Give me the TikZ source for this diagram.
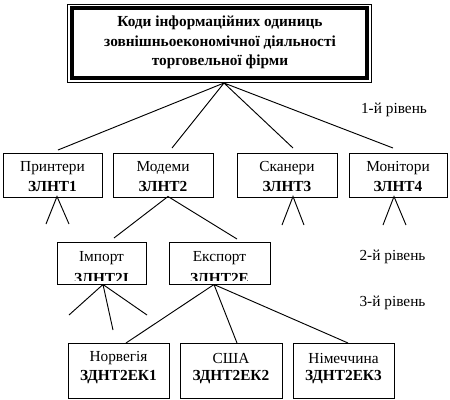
\documentclass[tikz,border=0pt]{standalone}
\usepackage{fontspec}
\setmainfont{Liberation Serif}
\begin{document}
\begin{tikzpicture}[x=0.75pt,y=-0.75pt,
  frame/.style={draw, line width=0.75pt, inner sep=0pt},
  txt/.style={inner sep=0pt, font=\fontsize{11.5}{14}\selectfont},
  code/.style={inner sep=0pt, font=\bfseries\fontsize{11.5}{14}\selectfont},
  link/.style={line width=0.7pt}]
\useasboundingbox (0,0) rectangle (450,400);

% top box
\node[frame, minimum width=228pt, minimum height=58.875pt] (top) at (219.5,43.25) {};
\draw[line width=2.6pt] (72,7.8) rectangle (367,78);
\node[inner sep=0pt, align=center, font=\bfseries\fontsize{11.5}{14.4}\selectfont] (toptext) at (220,42.5)
  {Коди інформаційних одиниць\\зовнішньоекономічної діяльності\\торговельної фірми};

% level labels
\node[txt] (l1) at (394,110) {1-й рівень};
\node[txt] (l2) at (392.5,257) {2-й рівень};
\node[txt] (l3) at (392.5,303) {3-й рівень};

% level 1 boxes
\node[frame, minimum width=74.25pt, minimum height=33pt] (p1) at (52.5,175) {};
\node[frame, minimum width=75pt, minimum height=33pt] (p2) at (163,175) {};
\node[frame, minimum width=75pt, minimum height=33pt] (p3) at (287,175) {};
\node[frame, minimum width=73.5pt, minimum height=33pt] (p4) at (398,175) {};
\node[txt] (p1a) at (52.5,168) {Принтери};
\node[code] (p1c) at (52.5,186) {ЗЛНТ1};
\node[txt] (p2a) at (163,168) {Модеми};
\node[code] (p2c) at (163,186) {ЗЛНТ2};
\node[txt] (p3a) at (287,168) {Сканери};
\node[code] (p3c) at (287,186) {ЗЛНТ3};
\node[txt] (p4a) at (398,168) {Монітори};
\node[code] (p4c) at (398,186) {ЗЛНТ4};

% level 2 boxes
\node[frame, minimum width=66.75pt, minimum height=31.5pt] (i1) at (101.5,263) {};
\node[frame, minimum width=75.75pt, minimum height=31.5pt] (e1) at (219.5,263) {};
\node[txt] (i1a) at (101.5,258) {Імпорт};
\node[txt] (e1a) at (219.5,258) {Експорт};
\begin{scope}
  \clip (58,243) rectangle (269,280.5);
  \node[code] (i1c) at (101.5,278) {ЗЛНТ2І};
  \node[code] (e1c) at (219.5,278) {ЗЛНТ2Е};
\end{scope}

% level 3 boxes
\node[frame, minimum width=75.75pt, minimum height=41.25pt] (n1) at (118.5,370.5) {};
\node[frame, minimum width=76.5pt, minimum height=41.25pt] (n2) at (231,370.5) {};
\node[frame, minimum width=75.75pt, minimum height=41.25pt] (n3) at (343.5,370.5) {};
\node[txt] (n1a) at (118.5,358) {Норвегія};
\node[code] (n1c) at (118.5,377) {ЗДНТ2ЕК1};
\node[txt] (n2a) at (231,358) {США};
\node[code] (n2c) at (231,377) {ЗДНТ2ЕК2};
\node[txt] (n3a) at (343.5,358) {Німеччина};
\node[code] (n3c) at (343.5,377) {ЗДНТ2ЕК3};

% connector points
\coordinate (a0) at (224,83);
\coordinate (t1) at (58,150);
\coordinate (t2) at (172,148);
\coordinate (t3) at (293,148);
\coordinate (t4) at (393,148);
\coordinate (b1) at (57,196.5);
\coordinate (b1l) at (46,224);
\coordinate (b1r) at (69,224);
\coordinate (b2) at (168,196.5);
\coordinate (ti) at (114,238);
\coordinate (te) at (237,239);
\coordinate (b3) at (293,196.5);
\coordinate (b3l) at (282,225);
\coordinate (b3r) at (304,225);
\coordinate (b4) at (394,196.5);
\coordinate (b4l) at (383,225);
\coordinate (b4r) at (406,225);
\coordinate (bi) at (103,284.5);
\coordinate (bil) at (69,315);
\coordinate (bim) at (113,330);
\coordinate (bir) at (147,315);
\coordinate (be) at (214,284.5);
\coordinate (tn1) at (126,343);
\coordinate (tn2) at (237,343);
\coordinate (tn3) at (348,343);

\draw[link] (a0) -- (t1) (a0) -- (t2) (a0) -- (t3) (a0) -- (t4);
\draw[link] (b1l) -- (b1) -- (b1r);
\draw[link] (ti) -- (b2) -- (te);
\draw[link] (b3l) -- (b3) -- (b3r);
\draw[link] (b4l) -- (b4) -- (b4r);
\draw[link] (bi) -- (bil) (bi) -- (bim) (bi) -- (bir);
\draw[link] (be) -- (tn1) (be) -- (tn2) (be) -- (tn3);
\end{tikzpicture}
\end{document}
